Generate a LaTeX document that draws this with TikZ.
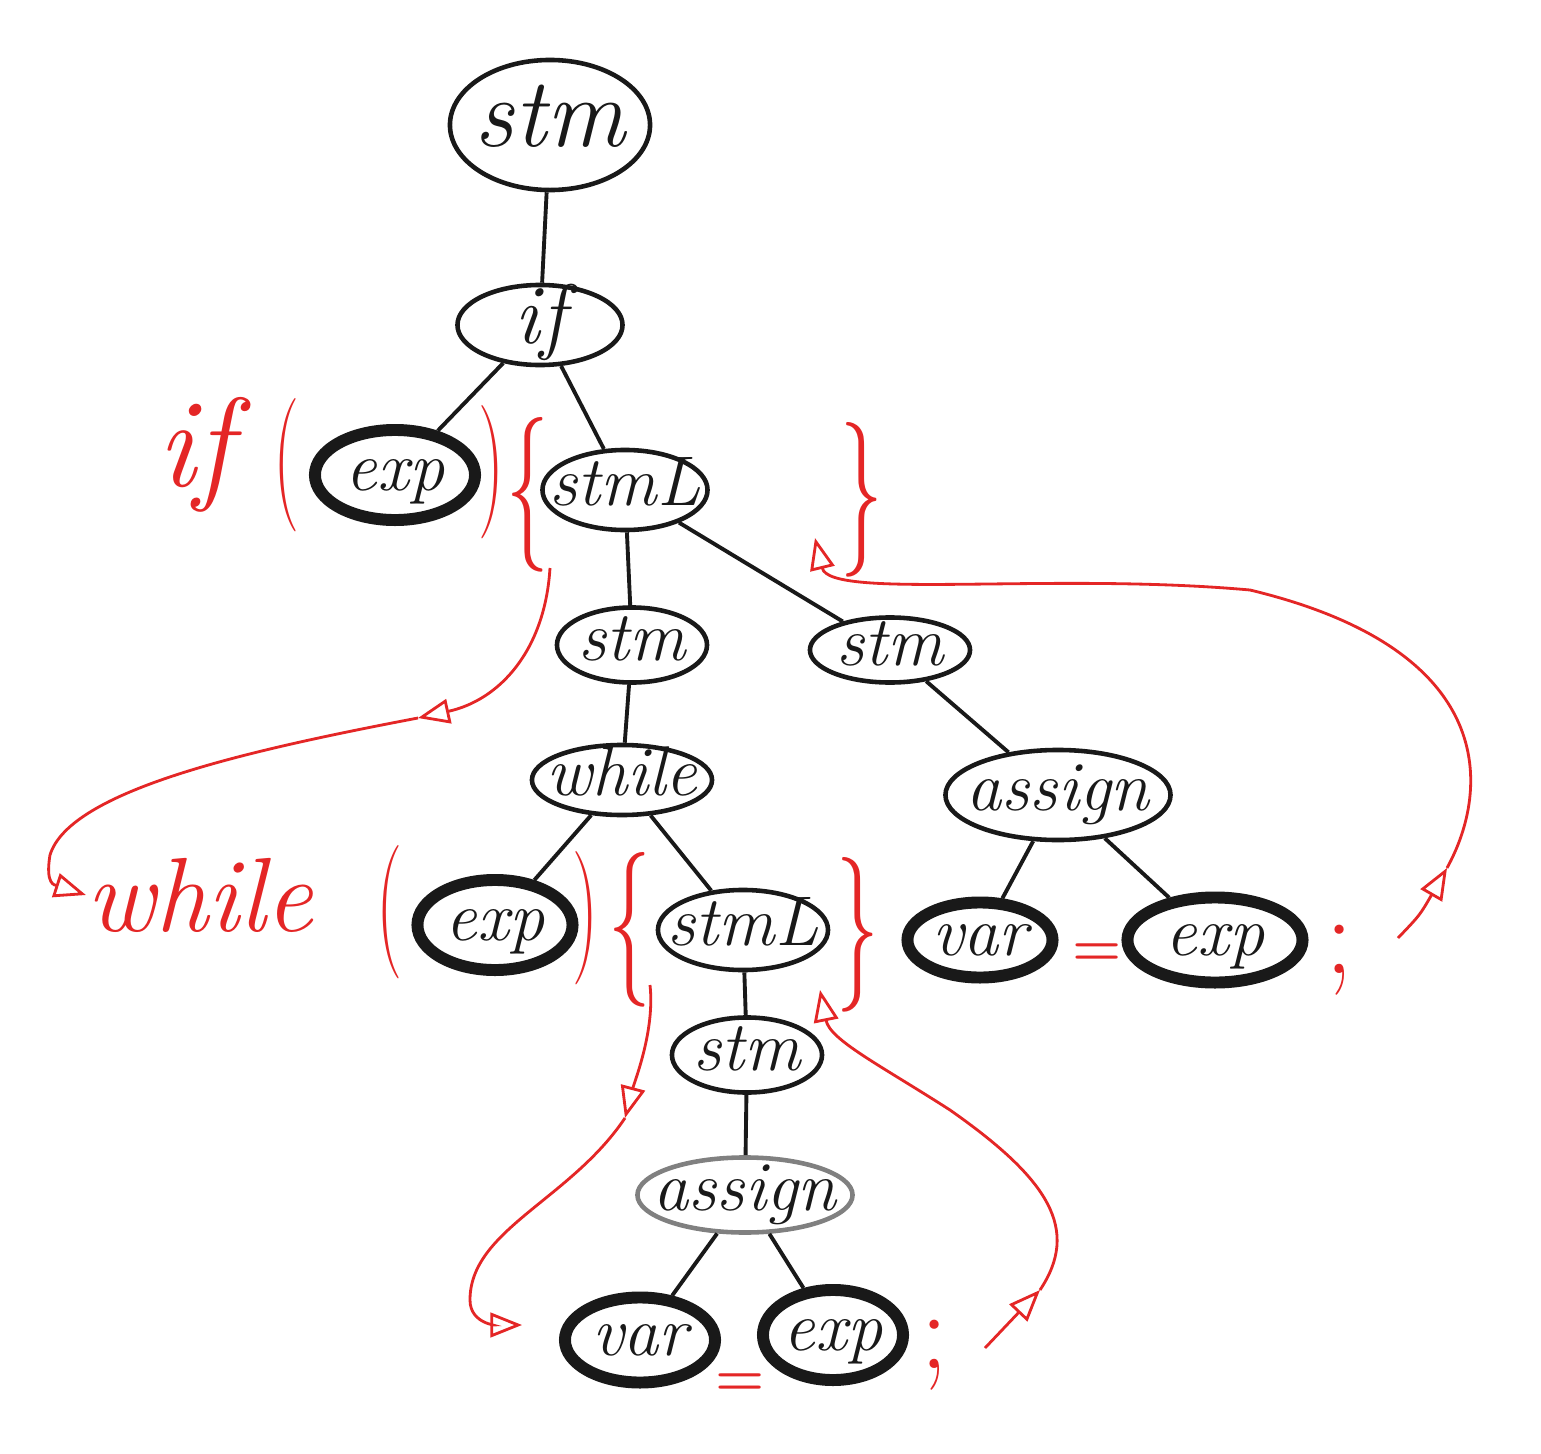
\documentclass[tikz,border=0pt]{standalone}
\usepackage{fontspec}
\usetikzlibrary{shapes.geometric,arrows.meta}
\definecolor{pen}{RGB}{228,38,38}
\definecolor{ink}{RGB}{25,25,25}
\newcommand\lab[1]{\makebox[0pt]{\smash{\raisebox{-0.5ex}{#1}}}}
\newcommand\thin[1]{\scalebox{0.55}[1]{#1}}
\begin{document}
\begin{tikzpicture}[x=0.01cm,y=-0.01cm,
  nd/.style={ellipse, draw=ink, line width=1.3pt, inner sep=0pt, text=ink,
             font=\fontsize{20}{20}\selectfont\itshape},
  bold/.style={nd, line width=3.4pt},
  edge/.style={draw=ink, line width=1.1pt},
  rtxt/.style={text=pen, inner sep=0pt},
  par/.style={rtxt, font=\fontsize{38}{38}\selectfont},
  brc/.style={rtxt, font=\fontsize{44}{44}\selectfont},
  rline/.style={draw=pen, line width=0.8pt, -{Triangle[open,length=9pt,width=7pt]}},
]
\useasboundingbox (0,0) rectangle (1541,1454);
\fill[white] (0,0) rectangle (1541,1454);

% tree nodes
\node[nd, minimum width=2cm, minimum height=1.3cm, font=\fontsize{28}{28}\selectfont\itshape] (s0) at (550,125) {\lab{stm}};
\node[nd, minimum width=1.65cm, minimum height=0.8cm, font=\fontsize{24}{24}\selectfont\itshape] (if) at (540,325) {\lab{if}};
\node[bold, minimum width=1.6cm, minimum height=0.9cm] (e1) at (395,475) {\lab{exp}};
\node[nd, minimum width=1.65cm, minimum height=0.8cm] (L1) at (625,490) {\lab{stmL}};
\node[nd, minimum width=1.5cm, minimum height=0.75cm] (s1) at (632,645) {\lab{stm}};
\node[nd, minimum width=1.6cm, minimum height=0.65cm] (s2) at (890,650) {\lab{stm}};
\node[nd, minimum width=1.8cm, minimum height=0.7cm] (w) at (622,780) {\lab{while}};
\node[nd, minimum width=2.25cm, minimum height=0.9cm] (a1) at (1058,795) {\lab{assign}};
\node[bold, minimum width=1.55cm, minimum height=0.9cm] (e2) at (495,925) {\lab{exp}};
\node[nd, minimum width=1.7cm, minimum height=0.8cm] (L2) at (743,930) {\lab{stmL}};
\node[bold, minimum width=1.45cm, minimum height=0.75cm] (v1) at (980,940) {\lab{var}};
\node[bold, minimum width=1.75cm, minimum height=0.85cm] (e3) at (1215,940) {\lab{exp}};
\node[nd, minimum width=1.5cm, minimum height=0.75cm] (s3) at (747,1055) {\lab{stm}};
\node[nd, draw=gray, minimum width=2.15cm, minimum height=0.75cm] (a2) at (745,1195) {\lab{assign}};
\node[bold, minimum width=1.5cm, minimum height=0.85cm] (v2) at (640,1340) {\lab{var}};
\node[bold, minimum width=1.4cm, minimum height=0.9cm] (e4) at (833,1335) {\lab{exp}};

% tree edges
\draw[edge] (s0) -- (if);
\draw[edge] (if) -- (e1);
\draw[edge] (if) -- (L1);
\draw[edge] (L1) -- (s1);
\draw[edge] (L1) -- (s2);
\draw[edge] (s1) -- (w);
\draw[edge] (w) -- (e2);
\draw[edge] (w) -- (L2);
\draw[edge] (s2) -- (a1);
\draw[edge] (a1) -- (v1);
\draw[edge] (a1) -- (e3);
\draw[edge] (L2) -- (s3);
\draw[edge] (s3) -- (a2);
\draw[edge] (a2) -- (v2);
\draw[edge] (a2) -- (e4);

% red annotations
\node[rtxt, font=\fontsize{36}{36}\selectfont\itshape] (tif) at (195,455) {if};
\node[par] (p1) at (287,465) {\thin{(}};
\node[par] (p2) at (492,472) {\thin{)}};
\node[brc] (b1) at (528,495) {\thin{\{}};
\node[brc] (b2) at (862,500) {\thin{\}}};
\node[rtxt, font=\fontsize{30}{30}\selectfont\itshape] (twhile) at (200,895) {while};
\node[par] (p3) at (390,912) {\thin{(}};
\node[par] (p4) at (586,918) {\thin{)}};
\node[brc] (b3) at (630,930) {\thin{\{}};
\node[brc] (b4) at (858,935) {\thin{\}}};
\node[rtxt, font=\fontsize{16}{16}\selectfont\bfseries] (eq1) at (1097,955) {=};
\node[rtxt, font=\fontsize{32}{32}\selectfont] (sc1) at (1340,960) {;};
\node[rtxt, font=\fontsize{16}{16}\selectfont\bfseries] (eq2) at (740,1385) {=};
\node[rtxt, font=\fontsize{32}{32}\selectfont] (sc2) at (935,1355) {;};

\coordinate (c1) at (550,568);
\coordinate (k1) at (418,718);
\coordinate (c3) at (1398,938);
\coordinate (k3) at (1447,868);
\coordinate (k4) at (815,538);
\coordinate (c5) at (650,985);
\coordinate (k5) at (625,1118);
\coordinate (k6) at (522,1325);
\coordinate (c7) at (985,1348);
\coordinate (k7) at (1040,1290);
\coordinate (k8) at (820,990);

\draw[rline] (c1) .. controls (545,650) and (500,700) .. (k1);
\draw[rline] (k1) .. controls (250,750) and (70,790) .. (50,855) .. controls (45,885) and (55,885) .. (twhile.west);
\draw[rline] (c3) .. controls (1420,915) .. (k3);
\draw[rline] (k3) .. controls (1490,790) and (1500,650) .. (1250,590) .. controls (1050,572) and (830,600) .. (k4);
\draw[rline] (c5) .. controls (655,1030) and (635,1080) .. (k5);
\draw[rline] (k5) .. controls (570,1200) and (470,1230) .. (470,1300) .. controls (470,1325) and (500,1325) .. (k6);
\draw[rline] (c7) -- (k7);
\draw[rline] (k7) .. controls (1080,1230) and (1050,1180) .. (950,1110) .. controls (880,1065) and (830,1040) .. (k8);
\end{tikzpicture}
\end{document}
